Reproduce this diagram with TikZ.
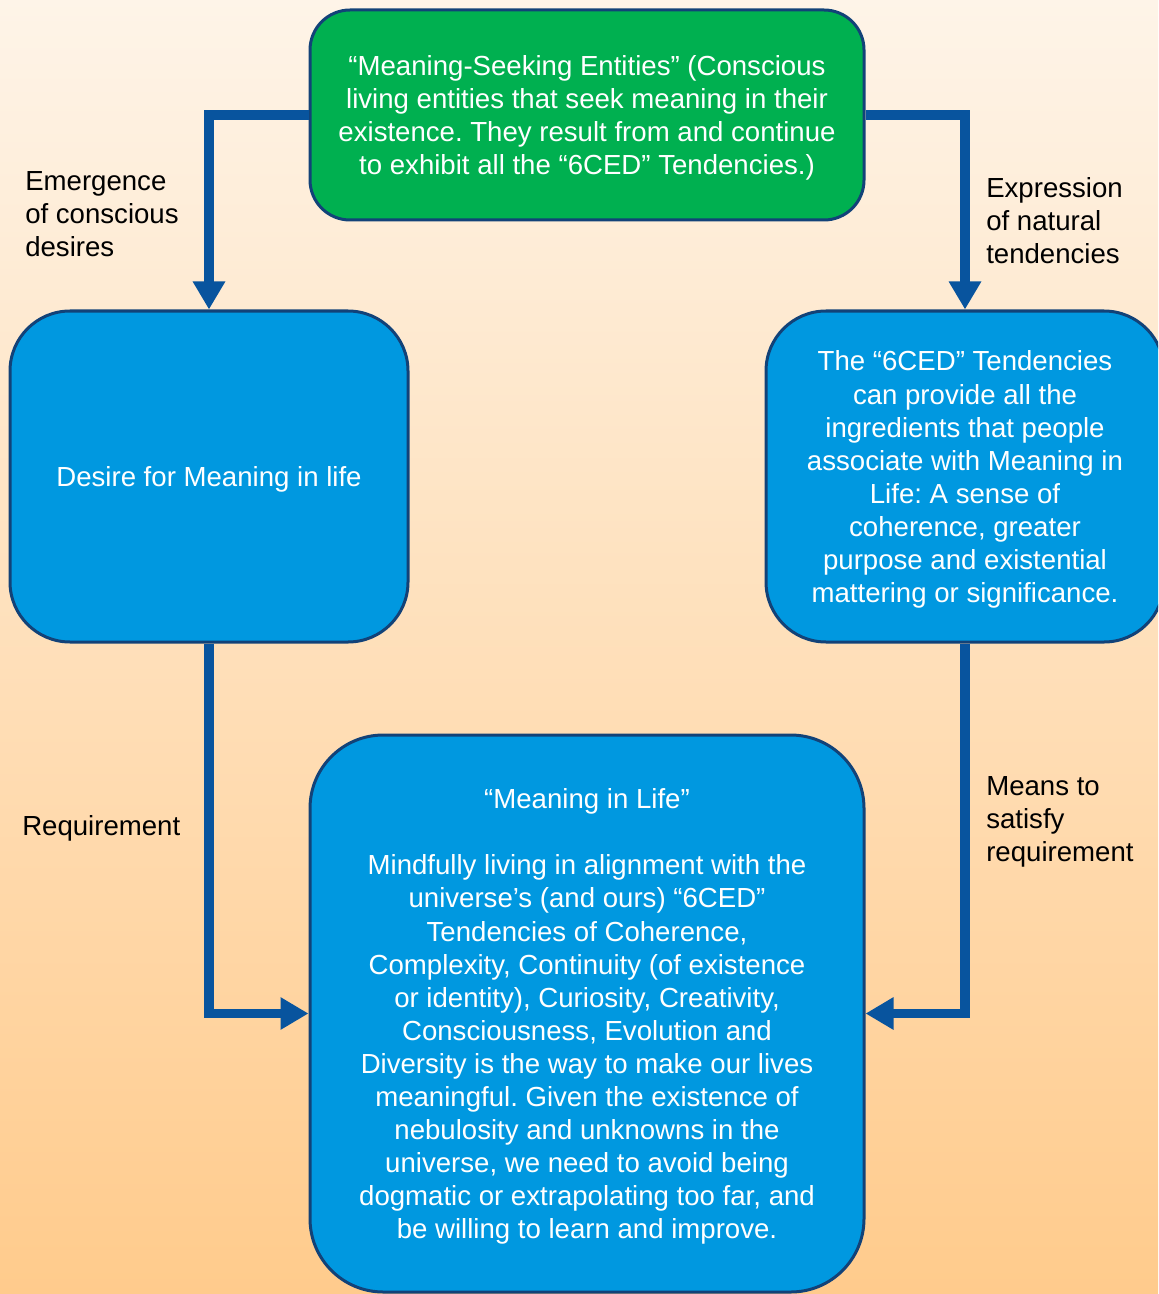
\documentclass[tikz,border=0pt]{standalone}
\usepackage{fontspec}
\setmainfont{Liberation Sans}
\usetikzlibrary{arrows.meta}

\definecolor{bgtop}{RGB}{254,244,232}
\definecolor{bgbottom}{RGB}{255,203,140}
\definecolor{boxgreen}{RGB}{0,176,80}
\definecolor{boxblue}{RGB}{0,152,224}
\definecolor{boxedge}{RGB}{18,66,120}
\definecolor{arrowblue}{RGB}{8,84,158}

% raises the first line's height a little so the text block sits lower
\newcommand{\toplift}{\rule{0pt}{19.6pt}}

\tikzset{
  txt/.style={font=\fontsize{20.7pt}{24.8pt}\selectfont\frenchspacing},
  card/.style={txt, draw=boxedge, line width=2.25pt, text=white,
    align=center, inner sep=0pt},
  greencard/.style={card, fill=boxgreen},
  bluecard/.style={card, fill=boxblue},
  note/.style={txt, text=black, align=left, anchor=west, inner sep=0pt},
  flow/.style={draw=arrowblue, line width=7pt, line join=miter,
    -{Triangle[width=23pt,length=21pt]}, color=arrowblue}
}

\begin{document}
\begin{tikzpicture}[x=0.75pt,y=-0.75pt]
  % page and background
  \useasboundingbox (0,0) rectangle (1158,1294);
  \clip (0,0) rectangle (1158,1294);
  \shade[top color=bgtop, bottom color=bgbottom] (0,0) rectangle (1158,1294);

  % boxes
  \node[greencard, rounded corners=30pt, minimum width=415.5pt, minimum height=157.5pt]
    (seek) at (587,115)
    {\toplift“Meaning-Seeking Entities” (Conscious\\
     living entities that seek meaning in their\\
     existence. They result from and continue\\
     to exhibit all the “6CED” Tendencies.)};

  \node[bluecard, rounded corners=45pt, minimum width=298.5pt, minimum height=248.25pt]
    (desire) at (209,476.5)
    {\toplift Desire for Meaning in life};

  \node[bluecard, rounded corners=45pt, minimum width=298.5pt, minimum height=248.25pt]
    (tend) at (965,476.5)
    {\toplift The “6CED” Tendencies\\
     can provide all the\\
     ingredients that people\\
     associate with Meaning in\\
     Life: A sense of\\
     coherence, greater\\
     purpose and existential\\
     mattering or significance.};

  \node[bluecard, rounded corners=55pt, minimum width=415.5pt, minimum height=417.75pt]
    (mil) at (587,1013.5)
    {\toplift“Meaning in Life”\\[24.8pt]
     Mindfully living in alignment with the\\
     universe’s (and ours) “6CED”\\
     Tendencies of Coherence,\\
     Complexity, Continuity (of existence\\
     or identity), Curiosity, Creativity,\\
     Consciousness, Evolution and\\
     Diversity is the way to make our lives\\
     meaningful. Given the existence of\\
     nebulosity and unknowns in the\\
     universe, we need to avoid being\\
     dogmatic or extrapolating too far, and\\
     be willing to learn and improve.};

  % connectors
  \draw[flow] (seek.west) -| (desire.north);
  \draw[flow] (seek.east) -| (tend.north);
  \draw[flow] (desire.south) |- (mil.west);
  \draw[flow] (tend.south) |- (mil.east);

  % connector labels
  \node[note] (lab1) at (25,214) {Emergence\\of conscious\\desires};
  \node[note] (lab2) at (986,221) {Expression\\of natural\\tendencies};
  \node[note] (lab3) at (22,828) {Requirement};
  \node[note] (lab4) at (986,822) {Means to\\satisfy\\requirement};
\end{tikzpicture}
\end{document}
